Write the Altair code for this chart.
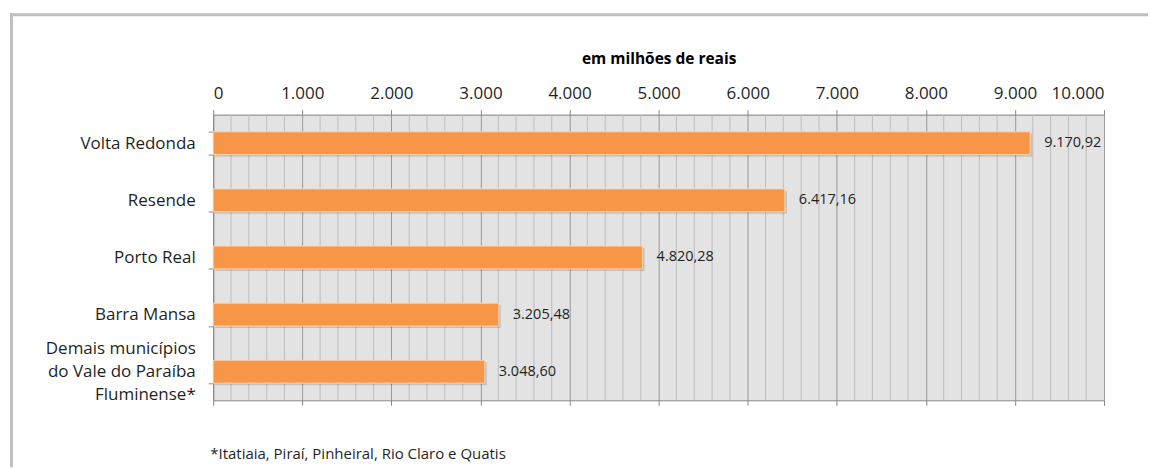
import altair as alt
import pandas as pd

categorias = ["Volta Redonda", "Resende", "Porto Real", "Barra Mansa",
              "Demais municípios|do Vale do Paraíba|Fluminense*"]
valores = [9170.92, 6417.16, 4820.28, 3205.48, 3048.60]
ticks_major = [0, 1000, 2000, 3000, 4000, 5000, 6000, 7000, 8000, 9000, 10000]
ticks_minor = [v for v in range(200, 10000, 200) if v % 1000 != 0]
nota = "*Itatiaia, Piraí, Pinheiral, Rio Claro e Quatis"

def br(v):
    s = f"{v:,.2f}"
    return s.replace(",", "X").replace(".", ",").replace("X", ".")

df = pd.DataFrame({"cat": categorias, "valor": valores,
                   "rotulo": [br(v) for v in valores]})
minor_df = pd.DataFrame({"v": ticks_minor})
dummy = pd.DataFrame({"a": [0]})

FONT = "Open Sans"
TXT = "#1f1f1f"
AX = "#868686"

xscale = alt.Scale(domain=[0, 10000], nice=False, zero=True)
yscale = alt.Scale(paddingInner=0.6, paddingOuter=0.3)

label_expr = "replace(format(datum.value, ',d'), ',', '.')"

top_axis = alt.Axis(orient="top", values=ticks_major, labelExpr=label_expr,
                    title="em milhões de reais", titleFontWeight="bold",
                    titleFontSize=15.5, titleColor="#000", titlePadding=18,
                    titleFont=FONT,
                    labelFontSize=17, labelColor=TXT, labelFont=FONT,
                    labelPadding=7, domainColor=AX, tickColor=AX, tickSize=5,
                    grid=True, gridColor="#9a9a9a", gridWidth=1)
bottom_axis = alt.Axis(orient="bottom", values=ticks_major, labels=False,
                       title=None, domainColor=AX, tickColor=AX, tickSize=5,
                       grid=False)
y_axis = alt.Axis(orient="left", title=None, domainColor=AX, tickColor=AX,
                  tickSize=5, tickBand="extent", labelPadding=13,
                  labelFontSize=17, labelColor=TXT, labelFont=FONT,
                  labelLineHeight=23,
                  labelOffset={"condition": {"test": "indexof(datum.label, '|') >= 0",
                                             "value": -23},
                               "value": 0},
                  labelExpr="split(datum.label, '|')", labelLimit=300)

Y = alt.Y("cat:N", sort=categorias, scale=yscale, axis=y_axis)

minor = alt.Chart(minor_df).mark_rule(color="#bdbdbd", strokeWidth=1).encode(
    x=alt.X("v:Q", scale=xscale, axis=bottom_axis)
)

shadow = alt.Chart(df).mark_bar(color="#000", opacity=0.15, xOffset=2,
                                yOffset=2).encode(
    x=alt.X("valor:Q", scale=xscale, axis=None), y=Y
)

bars = alt.Chart(df).mark_bar(color="#F79646", stroke="#FCD5B4",
                              strokeWidth=1).encode(
    x=alt.X("valor:Q", scale=xscale, axis=top_axis), y=Y
)

labels = alt.Chart(df).mark_text(align="left", baseline="middle", dx=14,
                                 fontSize=14.5, font=FONT, color=TXT).encode(
    x=alt.X("valor:Q", scale=xscale, axis=None), y=Y, text="rotulo:N"
)

footnote = alt.Chart(dummy).mark_text(align="left", baseline="middle",
                                      fontSize=15, font=FONT, color=TXT).encode(
    x=alt.value(-3), y=alt.value(340), text=alt.value(nota)
)

frame_top = alt.Chart(dummy).mark_rule(color="#bfbfbf", strokeWidth=3).encode(
    x=alt.value(-203.5), x2=alt.value(936), y=alt.value(-100)
)
frame_left = alt.Chart(dummy).mark_rule(color="#bfbfbf", strokeWidth=3).encode(
    x=alt.value(-202), y=alt.value(-101.5), y2=alt.value(353)
)

chart = alt.layer(minor, shadow, bars, labels, footnote, frame_top,
                  frame_left).resolve_axis(
    x="independent"
).properties(
    width=892, height=286,
    padding={"left": 8.5, "top": 11.5, "right": 0, "bottom": 1},
).configure(
    font=FONT, background="white",
    view=alt.ViewConfig(fill="#e3e3e3", stroke=None)
)

chart.save("out.html", embed_options={"renderer": "svg", "actions": False})
